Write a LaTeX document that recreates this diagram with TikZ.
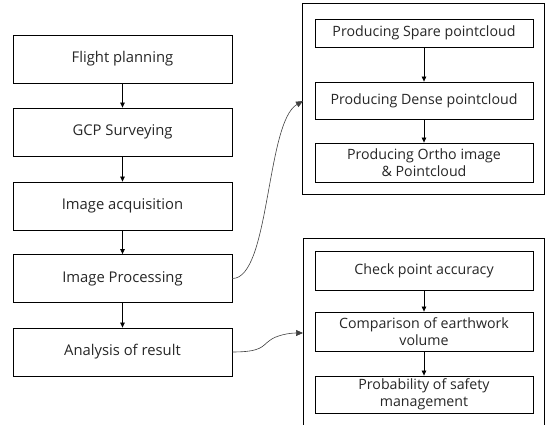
\documentclass[tikz,border=0pt]{standalone}
\usepackage{fontspec}
\setmainfont{Open Sans}
\usetikzlibrary{arrows.meta}
\begin{document}
\begin{tikzpicture}[x=1pt,y=-1pt,
  box/.style={draw=black,line width=0.8pt,rectangle,inner sep=0pt,align=center,text=black!85},
  lbox/.style={box,minimum width=219pt,minimum height=48pt,font=\fontsize{14.8}{18}\selectfont},
  rbox/.style={box,minimum width=218pt,font=\fontsize{14.2}{17}\selectfont},
  outer/.style={draw=black,line width=0.8pt},
  arr/.style={-{Triangle[length=5pt,width=4.5pt]},line width=0.7pt},
  carr/.style={-{Triangle[length=7pt,width=6pt]},line width=0.6pt,draw=black!75}]
\useasboundingbox (0,0) rectangle (546,425);
% left column
\node[lbox] (fp) at (122.5,59) {Flight planning};
\node[lbox] (gcp) at (122.5,132) {GCP Surveying};
\node[lbox] (ia) at (122.5,206) {Image acquisition};
\node[lbox] (ip) at (122.5,278.5) {Image Processing};
\node[lbox] (ar) at (122.5,352) {Analysis of result};
\draw[arr] (fp) -- (gcp);
\draw[arr] (gcp) -- (ia);
\draw[arr] (ia) -- (ip);
\draw[arr] (ip) -- (ar);
% top right group
\node[outer,minimum width=242pt,minimum height=191pt] (g1) at (423,98.5) {};
\node[rbox,minimum height=28pt] (sp) at (424,33) {Producing Spare pointcloud};
\node[rbox,minimum height=37pt] (dp) at (424,100.5) {Producing Dense pointcloud};
\node[rbox,minimum height=39pt] (op) at (424,162.5) {Producing Ortho image\\\& Pointcloud};
\draw[arr] (sp) -- (dp);
\draw[arr] (dp) -- (op);
% bottom right group (open at the bottom)
\coordinate (g2bl) at (303,425);
\coordinate (g2tl) at (303,238);
\coordinate (g2tr) at (544,238);
\coordinate (g2br) at (544,425);
\draw[outer] (g2bl) -- (g2tl) -- (g2tr) -- (g2br);
\node[rbox,minimum height=39pt] (cp) at (424,270.5) {Check point accuracy};
\node[rbox,minimum height=39pt] (ce) at (424,331.5) {Comparison of earthwork\\volume};
\node[rbox,minimum height=37pt] (ps) at (424,394.5) {Probability of safety\\management};
\draw[arr] (cp) -- (ce);
\draw[arr] (ce) -- (ps);
% curved connectors
\coordinate (t1) at (303,101);
\coordinate (t2) at (303,333);
\draw[carr] (ip.east) .. controls (270,278.5) and (266,122) .. (t1);
\draw[carr] (ar.east) .. controls (262,352) and (262,346) .. (269,341) .. controls (276,335) and (290,333) .. (t2);
\end{tikzpicture}
\end{document}
